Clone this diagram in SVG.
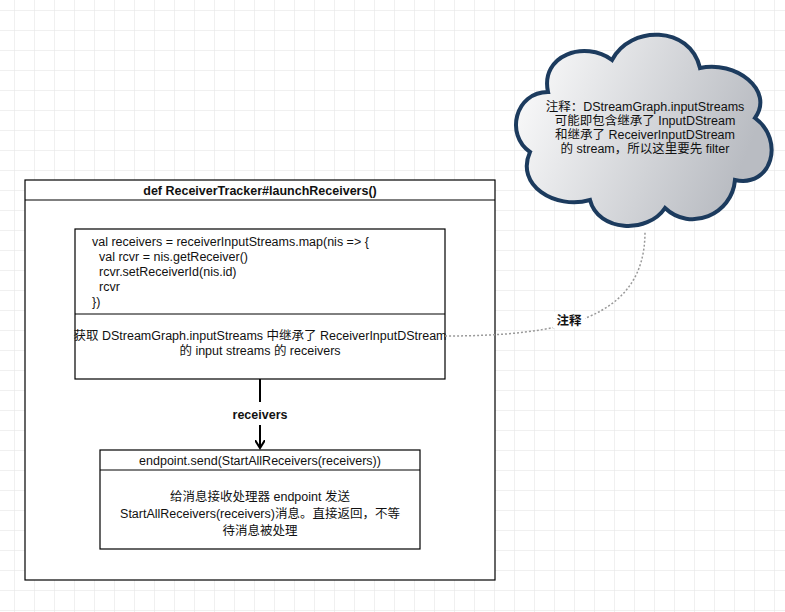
<svg xmlns="http://www.w3.org/2000/svg" width="785" height="612" viewBox="0 0 785 612">
<defs>
<pattern id="grid" x="14" y="10" width="20" height="20" patternUnits="userSpaceOnUse">
<path d="M0 0H20M0 0V20" fill="none" stroke="#e2e2e2" stroke-width="1"/>
</pattern>
<linearGradient id="cg" x1="0" y1="0" x2="1" y2="0.3">
<stop offset="0" stop-color="#ffffff"/><stop offset="1" stop-color="#b9bcc2"/>
</linearGradient>
<marker id="arr" markerWidth="10" markerHeight="10" refX="8" refY="5" orient="auto" markerUnits="userSpaceOnUse">
<path d="M0 0L8 5L0 10" fill="none" stroke="#000" stroke-width="2"/>
</marker>
<style>
.b{fill:#fff;stroke:#000;stroke-width:1.2}
.t{font-family:"Liberation Sans","Noto Sans CJK SC",sans-serif;font-size:12.5px;fill:#111}
.c{text-anchor:middle}
.bold{font-weight:bold}
</style>
</defs>
<rect width="785" height="612" fill="#fff"/>
<rect width="785" height="612" fill="url(#grid)"/>
<g id="cloud">
<path d="M548 92 C540 55 585 40 612 60 C630 25 690 25 700 68 C735 60 775 90 755 118 C785 140 772 188 735 180 C732 215 690 232 665 208 C648 234 598 232 590 200 C555 210 515 185 530 152 C505 135 515 92 548 92 Z" fill="url(#cg)" stroke="#1c3b5e" stroke-width="4"/>
<text class="t c" font-size="11.5"><tspan x="645" y="111">注释：DStreamGraph.inputStreams</tspan><tspan x="645" y="125">可能即包含继承了 InputDStream</tspan><tspan x="645" y="139">和继承了 ReceiverInputDStream</tspan><tspan x="645" y="153">的 stream，所以这里要先 filter</tspan></text>
</g>
<g id="outer">
<rect class="b" x="25" y="180" width="470" height="400"/>
<line x1="25" y1="200" x2="495" y2="200" stroke="#000" stroke-width="1.2"/>
<text class="t c bold" x="260" y="195">def ReceiverTracker#launchReceivers()</text>
</g>
<g id="map">
<rect class="b" x="75" y="229" width="370" height="150"/>
<line x1="75" y1="314" x2="445" y2="314" stroke="#000" stroke-width="1"/>
<text class="t"><tspan x="92" y="246">val receivers = receiverInputStreams.map(nis =&gt; {</tspan><tspan x="99" y="261">val rcvr = nis.getReceiver()</tspan><tspan x="99" y="276">rcvr.setReceiverId(nis.id)</tspan><tspan x="99" y="291">rcvr</tspan><tspan x="92" y="306">})</tspan></text>
<text class="t c" font-size="11"><tspan x="260" y="340">获取 DStreamGraph.inputStreams 中继承了 ReceiverInputDStream</tspan><tspan x="260" y="355">的 input streams 的 receivers</tspan></text>
</g>
<g id="send">
<rect class="b" x="100" y="450" width="320" height="99"/>
<line x1="100" y1="470" x2="420" y2="470" stroke="#000" stroke-width="1"/>
<text class="t c" font-size="13.5" x="260" y="465">endpoint.send(StartAllReceivers(receivers))</text>
<text class="t c" font-size="13.5"><tspan x="260" y="501">给消息接收处理器 endpoint 发送</tspan><tspan x="260" y="518">StartAllReceivers(receivers)消息。直接返回，不等</tspan><tspan x="260" y="535">待消息被处理</tspan></text>
</g>
<g id="connectors">
<line x1="260" y1="379" x2="260" y2="402" stroke="#000" stroke-width="2"/>
<line x1="260" y1="425" x2="260" y2="448" stroke="#000" stroke-width="2" marker-end="url(#arr)"/>
<text class="t c bold" x="260" y="419">receivers</text>
<path d="M445 336 C560 336 645 320 645 232" fill="none" stroke="#999" stroke-width="1.5" stroke-dasharray="2 2"/>
<rect x="553" y="312" width="32" height="16" fill="#fff"/>
<text class="t c bold" x="569" y="325">注释</text>
</g>
</svg>
